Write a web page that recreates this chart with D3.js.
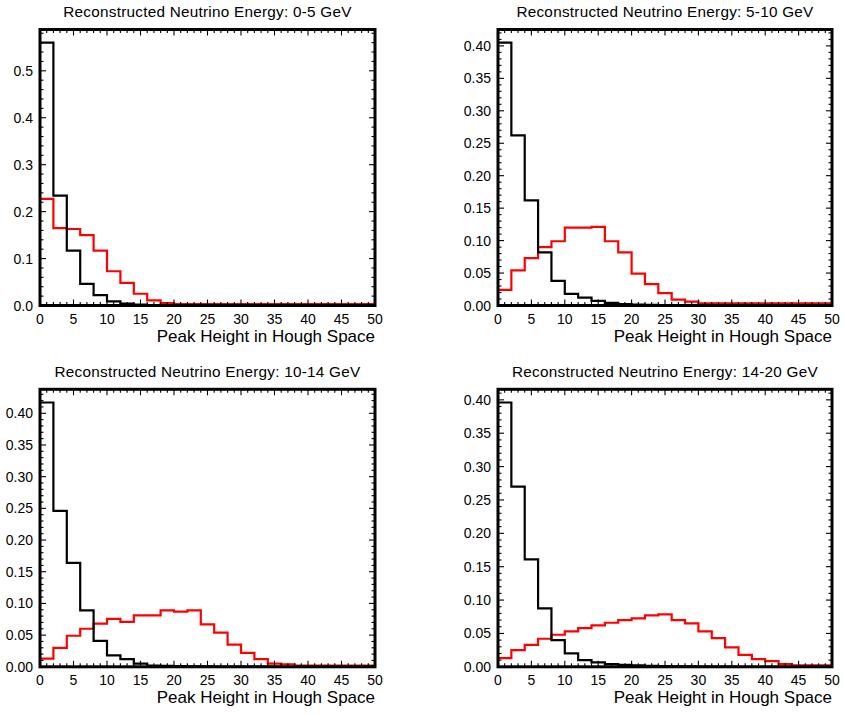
<!DOCTYPE html>
<html>
<head>
<meta charset="utf-8">
<script src="https://cdn.jsdelivr.net/npm/d3@7/dist/d3.min.js"></script>
<style>
  html, body { margin: 0; padding: 0; background: #fff; }
  svg { display: block; }
  text { font-family: Arial, "Liberation Sans", Helvetica, sans-serif; fill: #000; }
</style>
</head>
<body>
<svg id="chart" width="844" height="714"></svg>
<script>
// Histogram binning: 25 bins of width 2 over peak height 0..50
const xDomain = [0, 50];
const binWidth = 2;
const xMajorTicks = [0, 5, 10, 15, 20, 25, 30, 35, 40, 45, 50];
const xAxisTitle = "Peak Height in Hough Space";

const panelTitles = [
  "Reconstructed Neutrino Energy: 0-5 GeV",
  "Reconstructed Neutrino Energy: 5-10 GeV",
  "Reconstructed Neutrino Energy: 10-14 GeV",
  "Reconstructed Neutrino Energy: 14-20 GeV"
];

// Y tick labels per panel
const yTickLabels0 = ["0.0", "0.1", "0.2", "0.3", "0.4", "0.5"];
const yTickLabels1 = ["0.00", "0.05", "0.10", "0.15", "0.20", "0.25", "0.30", "0.35", "0.40"];
const yTickLabels2 = ["0.00", "0.05", "0.10", "0.15", "0.20", "0.25", "0.30", "0.35", "0.40"];
const yTickLabels3 = ["0.00", "0.05", "0.10", "0.15", "0.20", "0.25", "0.30", "0.35", "0.40"];

// Normalised bin contents, black histograms
const black_0_5 = [0.560, 0.234, 0.117, 0.046, 0.022, 0.009, 0.004, 0.002, 0.001, 0.0008,
  0.0005, 0.0004, 0.0003, 0.0002, 0.0002, 0.0001, 0.0001, 0.0001, 0, 0, 0, 0, 0, 0, 0];
const black_5_10 = [0.405, 0.262, 0.162, 0.082, 0.038, 0.018, 0.012, 0.007, 0.004, 0.002,
  0.0015, 0.001, 0.0008, 0.0005, 0.0004, 0.0003, 0.0002, 0.0002, 0.0001, 0.0001, 0, 0, 0, 0, 0];
const black_10_14 = [0.417, 0.246, 0.164, 0.089, 0.041, 0.018, 0.012, 0.005, 0.002, 0.0015,
  0.001, 0.0008, 0.0006, 0.0005, 0.0004, 0.0003, 0.0002, 0.0002, 0.0001, 0.0001, 0, 0, 0, 0, 0];
const black_14_20 = [0.396, 0.270, 0.161, 0.0875, 0.040, 0.020, 0.010, 0.0065, 0.004, 0.003,
  0.002, 0.0015, 0.001, 0.0008, 0.0005, 0.0004, 0.0003, 0.0002, 0.0001, 0.0001, 0, 0, 0, 0, 0];

// Normalised bin contents, red histograms
const red_0_5 = [0.227, 0.165, 0.163, 0.150, 0.117, 0.073, 0.048, 0.025, 0.011, 0.005,
  0.003, 0.003, 0.003, 0.003, 0.003, 0.003, 0.003, 0.003, 0.003, 0.003, 0.003, 0.003, 0.003, 0.003, 0.003];
const red_5_10 = [0.024, 0.054, 0.073, 0.090, 0.099, 0.120, 0.120, 0.121, 0.099, 0.082,
  0.049, 0.033, 0.019, 0.009, 0.006, 0.0035, 0.0035, 0.0035, 0.0035, 0.0035, 0.0035, 0.0035, 0.0035, 0.0035, 0.0035];
const red_10_14 = [0.013, 0.030, 0.049, 0.060, 0.068, 0.0755, 0.071, 0.081, 0.081, 0.089,
  0.087, 0.089, 0.067, 0.054, 0.035, 0.022, 0.012, 0.005, 0.004, 0.002, 0.002, 0.002, 0.002, 0.002, 0.002];
const red_14_20 = [0.013, 0.025, 0.033, 0.042, 0.048, 0.053, 0.058, 0.062, 0.066, 0.070,
  0.0725, 0.077, 0.0785, 0.070, 0.065, 0.053, 0.043, 0.029, 0.018, 0.0115, 0.0085, 0.004, 0.002, 0.002, 0.002];

const panels = [
  { title: panelTitles[0], black: black_0_5,  red: red_0_5,  yLabels: yTickLabels0 },
  { title: panelTitles[1], black: black_5_10, red: red_5_10, yLabels: yTickLabels1 },
  { title: panelTitles[2], black: black_10_14, red: red_10_14, yLabels: yTickLabels2 },
  { title: panelTitles[3], black: black_14_20, red: red_14_20, yLabels: yTickLabels3 }
];

// Frame layout of the 2x2 grid
const colLeft = [40, 498];
const colRight = [375, 832];
const rowTop = [29.5, 389.3];
const rowBottom = [305.5, 666.8];

const svg = d3.select("#chart");

panels.forEach((p, i) => {
  const col = i % 2, row = Math.floor(i / 2);
  const x0 = colLeft[col], x1 = colRight[col];
  const y0 = rowTop[row], y1 = rowBottom[row];

  const yLabelValues = p.yLabels.map(Number);
  const yMajorStep = yLabelValues[1] - yLabelValues[0];
  const yMax = 1.05 * d3.max(p.black);

  const x = d3.scaleLinear().domain(xDomain).range([x0, x1]);
  const y = d3.scaleLinear().domain([0, yMax]).range([y1, y0]);

  const g = svg.append("g");

  // step outline of a histogram
  const stepPath = values => {
    const pts = [];
    values.forEach((v, k) => {
      const lo = xDomain[0] + k * binWidth;
      pts.push([x(lo), y(v)], [x(lo + binWidth), y(v)]);
    });
    return d3.line()(pts);
  };

  g.append("path").attr("d", stepPath(p.red))
    .attr("fill", "none").attr("stroke", "#ff0000").attr("stroke-width", 2.2)
    .attr("stroke-linejoin", "miter");
  g.append("path").attr("d", stepPath(p.black))
    .attr("fill", "none").attr("stroke", "#000").attr("stroke-width", 2.2)
    .attr("stroke-linejoin", "miter");

  // tick marks on all four sides, pointing inwards
  const ticks = g.append("g").attr("stroke", "#000").attr("stroke-width", 1.1);
  const majorLen = 6, minorLen = 3.5;
  const xMinor = d3.range(xDomain[0], xDomain[1] + 0.001, 1);
  xMinor.forEach(v => {
    const len = xMajorTicks.includes(v) ? majorLen : minorLen;
    const px = x(v);
    ticks.append("line").attr("x1", px).attr("x2", px).attr("y1", y1).attr("y2", y1 - len);
    ticks.append("line").attr("x1", px).attr("x2", px).attr("y1", y0).attr("y2", y0 + len);
  });
  const yMinorStep = yMajorStep / 5;
  const nMinor = Math.floor(yMax / yMinorStep + 1e-6);
  d3.range(0, nMinor + 1).forEach(k => {
    const v = k * yMinorStep;
    const len = (k % 5 === 0) ? majorLen : minorLen;
    const py = y(v);
    ticks.append("line").attr("x1", x0).attr("x2", x0 + len).attr("y1", py).attr("y2", py);
    ticks.append("line").attr("x1", x1).attr("x2", x1 - len).attr("y1", py).attr("y2", py);
  });

  // frame
  g.append("rect").attr("x", x0).attr("y", y0)
    .attr("width", x1 - x0).attr("height", y1 - y0)
    .attr("fill", "none").attr("stroke", "#000").attr("stroke-width", 3);

  // x tick labels
  g.selectAll(".xl").data(xMajorTicks).enter().append("text")
    .attr("x", d => x(d)).attr("y", y1 + 18)
    .attr("text-anchor", "middle").attr("font-size", 14)
    .text(d => d);

  // y tick labels
  g.selectAll(".yl").data(p.yLabels).enter().append("text")
    .attr("x", x0 - 7).attr("y", d => y(+d))
    .attr("dy", "0.36em")
    .attr("text-anchor", "end").attr("font-size", 14)
    .text(d => d);

  // axis title
  g.append("text").attr("x", x1).attr("y", y1 + 36.5)
    .attr("text-anchor", "end").attr("font-size", 17)
    .text(xAxisTitle);

  // panel title
  g.append("text").attr("x", (x0 + x1) / 2).attr("y", y0 - 12.5)
    .attr("text-anchor", "middle").attr("font-size", 15.3)
    .attr("letter-spacing", 0.25)
    .text(p.title);
});
</script>
</body>
</html>
